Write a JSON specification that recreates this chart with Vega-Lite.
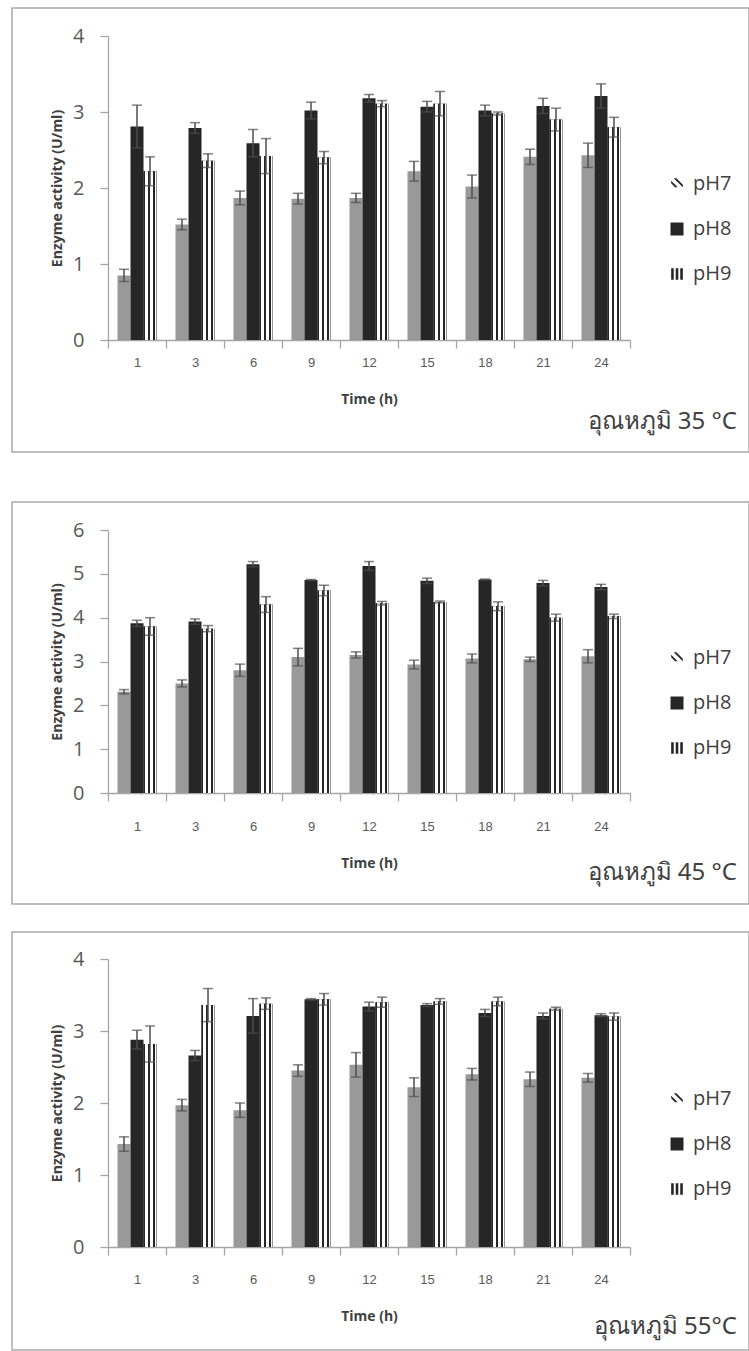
{
  "$schema": "https://vega.github.io/schema/vega-lite/v6.json",
  "padding": {"left": 11, "top": 7, "right": 0, "bottom": 0},
  "background": "white",
  "datasets": {
    "d": [
      {"t":35,"h":"1","p":"pH7","v":0.85,"lo":0.77,"hi":0.93},
      {"t":35,"h":"1","p":"pH8","v":2.81,"lo":2.53,"hi":3.09},
      {"t":35,"h":"1","p":"pH9","v":2.22,"lo":2.03,"hi":2.41},
      {"t":35,"h":"3","p":"pH7","v":1.52,"lo":1.45,"hi":1.59},
      {"t":35,"h":"3","p":"pH8","v":2.79,"lo":2.72,"hi":2.86},
      {"t":35,"h":"3","p":"pH9","v":2.36,"lo":2.27,"hi":2.45},
      {"t":35,"h":"6","p":"pH7","v":1.87,"lo":1.78,"hi":1.96},
      {"t":35,"h":"6","p":"pH8","v":2.59,"lo":2.41,"hi":2.77},
      {"t":35,"h":"6","p":"pH9","v":2.42,"lo":2.19,"hi":2.65},
      {"t":35,"h":"9","p":"pH7","v":1.86,"lo":1.79,"hi":1.93},
      {"t":35,"h":"9","p":"pH8","v":3.02,"lo":2.91,"hi":3.13},
      {"t":35,"h":"9","p":"pH9","v":2.40,"lo":2.32,"hi":2.48},
      {"t":35,"h":"12","p":"pH7","v":1.87,"lo":1.81,"hi":1.93},
      {"t":35,"h":"12","p":"pH8","v":3.18,"lo":3.13,"hi":3.23},
      {"t":35,"h":"12","p":"pH9","v":3.11,"lo":3.07,"hi":3.15},
      {"t":35,"h":"15","p":"pH7","v":2.22,"lo":2.09,"hi":2.35},
      {"t":35,"h":"15","p":"pH8","v":3.07,"lo":3.00,"hi":3.14},
      {"t":35,"h":"15","p":"pH9","v":3.11,"lo":2.95,"hi":3.27},
      {"t":35,"h":"18","p":"pH7","v":2.02,"lo":1.87,"hi":2.17},
      {"t":35,"h":"18","p":"pH8","v":3.02,"lo":2.95,"hi":3.09},
      {"t":35,"h":"18","p":"pH9","v":2.98,"lo":2.96,"hi":3.00},
      {"t":35,"h":"21","p":"pH7","v":2.41,"lo":2.31,"hi":2.51},
      {"t":35,"h":"21","p":"pH8","v":3.08,"lo":2.98,"hi":3.18},
      {"t":35,"h":"21","p":"pH9","v":2.90,"lo":2.75,"hi":3.05},
      {"t":35,"h":"24","p":"pH7","v":2.43,"lo":2.27,"hi":2.59},
      {"t":35,"h":"24","p":"pH8","v":3.21,"lo":3.05,"hi":3.37},
      {"t":35,"h":"24","p":"pH9","v":2.80,"lo":2.67,"hi":2.93},

      {"t":45,"h":"1","p":"pH7","v":2.31,"lo":2.26,"hi":2.36},
      {"t":45,"h":"1","p":"pH8","v":3.87,"lo":3.80,"hi":3.94},
      {"t":45,"h":"1","p":"pH9","v":3.80,"lo":3.60,"hi":4.00},
      {"t":45,"h":"3","p":"pH7","v":2.50,"lo":2.42,"hi":2.58},
      {"t":45,"h":"3","p":"pH8","v":3.91,"lo":3.85,"hi":3.97},
      {"t":45,"h":"3","p":"pH9","v":3.75,"lo":3.68,"hi":3.82},
      {"t":45,"h":"6","p":"pH7","v":2.80,"lo":2.66,"hi":2.94},
      {"t":45,"h":"6","p":"pH8","v":5.22,"lo":5.16,"hi":5.28},
      {"t":45,"h":"6","p":"pH9","v":4.30,"lo":4.12,"hi":4.48},
      {"t":45,"h":"9","p":"pH7","v":3.10,"lo":2.90,"hi":3.30},
      {"t":45,"h":"9","p":"pH8","v":4.86,"lo":4.85,"hi":4.87},
      {"t":45,"h":"9","p":"pH9","v":4.62,"lo":4.50,"hi":4.74},
      {"t":45,"h":"12","p":"pH7","v":3.15,"lo":3.08,"hi":3.22},
      {"t":45,"h":"12","p":"pH8","v":5.18,"lo":5.08,"hi":5.28},
      {"t":45,"h":"12","p":"pH9","v":4.33,"lo":4.29,"hi":4.37},
      {"t":45,"h":"15","p":"pH7","v":2.93,"lo":2.83,"hi":3.03},
      {"t":45,"h":"15","p":"pH8","v":4.84,"lo":4.78,"hi":4.90},
      {"t":45,"h":"15","p":"pH9","v":4.36,"lo":4.34,"hi":4.38},
      {"t":45,"h":"18","p":"pH7","v":3.07,"lo":2.97,"hi":3.17},
      {"t":45,"h":"18","p":"pH8","v":4.87,"lo":4.86,"hi":4.88},
      {"t":45,"h":"18","p":"pH9","v":4.26,"lo":4.16,"hi":4.36},
      {"t":45,"h":"21","p":"pH7","v":3.05,"lo":3.00,"hi":3.10},
      {"t":45,"h":"21","p":"pH8","v":4.79,"lo":4.73,"hi":4.85},
      {"t":45,"h":"21","p":"pH9","v":4.00,"lo":3.92,"hi":4.08},
      {"t":45,"h":"24","p":"pH7","v":3.12,"lo":2.97,"hi":3.27},
      {"t":45,"h":"24","p":"pH8","v":4.70,"lo":4.64,"hi":4.76},
      {"t":45,"h":"24","p":"pH9","v":4.03,"lo":3.98,"hi":4.08},

      {"t":55,"h":"1","p":"pH7","v":1.43,"lo":1.33,"hi":1.53},
      {"t":55,"h":"1","p":"pH8","v":2.88,"lo":2.75,"hi":3.01},
      {"t":55,"h":"1","p":"pH9","v":2.82,"lo":2.57,"hi":3.07},
      {"t":55,"h":"3","p":"pH7","v":1.97,"lo":1.89,"hi":2.05},
      {"t":55,"h":"3","p":"pH8","v":2.66,"lo":2.59,"hi":2.73},
      {"t":55,"h":"3","p":"pH9","v":3.36,"lo":3.13,"hi":3.59},
      {"t":55,"h":"6","p":"pH7","v":1.90,"lo":1.80,"hi":2.00},
      {"t":55,"h":"6","p":"pH8","v":3.21,"lo":2.97,"hi":3.45},
      {"t":55,"h":"6","p":"pH9","v":3.38,"lo":3.30,"hi":3.46},
      {"t":55,"h":"9","p":"pH7","v":2.45,"lo":2.37,"hi":2.53},
      {"t":55,"h":"9","p":"pH8","v":3.44,"lo":3.43,"hi":3.45},
      {"t":55,"h":"9","p":"pH9","v":3.44,"lo":3.36,"hi":3.52},
      {"t":55,"h":"12","p":"pH7","v":2.53,"lo":2.36,"hi":2.70},
      {"t":55,"h":"12","p":"pH8","v":3.34,"lo":3.28,"hi":3.40},
      {"t":55,"h":"12","p":"pH9","v":3.40,"lo":3.33,"hi":3.47},
      {"t":55,"h":"15","p":"pH7","v":2.22,"lo":2.09,"hi":2.35},
      {"t":55,"h":"15","p":"pH8","v":3.36,"lo":3.34,"hi":3.38},
      {"t":55,"h":"15","p":"pH9","v":3.41,"lo":3.37,"hi":3.45},
      {"t":55,"h":"18","p":"pH7","v":2.40,"lo":2.32,"hi":2.48},
      {"t":55,"h":"18","p":"pH8","v":3.25,"lo":3.20,"hi":3.30},
      {"t":55,"h":"18","p":"pH9","v":3.41,"lo":3.35,"hi":3.47},
      {"t":55,"h":"21","p":"pH7","v":2.33,"lo":2.23,"hi":2.43},
      {"t":55,"h":"21","p":"pH8","v":3.21,"lo":3.17,"hi":3.25},
      {"t":55,"h":"21","p":"pH9","v":3.31,"lo":3.29,"hi":3.33},
      {"t":55,"h":"24","p":"pH7","v":2.35,"lo":2.29,"hi":2.41},
      {"t":55,"h":"24","p":"pH8","v":3.22,"lo":3.20,"hi":3.24},
      {"t":55,"h":"24","p":"pH9","v":3.20,"lo":3.15,"hi":3.25}
    ]
  },
  "spacing": 48,
  "resolve": {"scale": {"x": "independent", "y": "independent", "xOffset": "independent", "fill": "independent", "shape": "independent"}, "legend": {"fill": "independent", "shape": "independent"}, "axis": {"x": "independent", "y": "independent"}},
  "vconcat": [
    {
      "width": 737, "height": 444,
      "data": {"name": "d"},
      "transform": [{"filter": "datum.t == 35"}],
      "title": {"text": "อุณหภูมิ 35 °C", "offset": -42},
      "encoding": {
        "x": {"field": "h", "type": "ordinal", "sort": ["1","3","6","9","12","15","18","21","24"], "title": "Time (h)",
              "scale": {"range": [96, 618], "paddingInner": 0, "paddingOuter": 0},
              "axis": {"offset": -112, "labelPadding": 8.5}},
        "xOffset": {"field": "p", "type": "nominal", "scale": {"domain": ["pH7","pH8","pH9"], "paddingInner": 0, "paddingOuter": 0.73}},
        "y": {"field": "v", "type": "quantitative", "title": "Enzyme activity (U/ml)",
              "scale": {"domain": [0, 4], "range": [332, 28], "nice": false},
              "axis": {"offset": -96, "values": [0,1,2,3,4]}}
      },
      "layer": [
        {"mark": {"type": "bar"},
         "encoding": {"fill": {"condition": {"test": "datum.p === 'pH7'", "value": "#999999"}, "value": "#262626"}}},
        {"transform": [{"filter": "datum.p === 'pH9'"}],
         "mark": {"type": "bar", "fill": {"gradient": "linear", "x1": 0, "y1": 0, "x2": 1, "y2": 0, "stops": [
                {"offset": 0, "color": "#262626"}, {"offset": 0.15, "color": "#262626"},
                {"offset": 0.15, "color": "#ffffff"}, {"offset": 0.33, "color": "#ffffff"},
                {"offset": 0.33, "color": "#262626"}, {"offset": 0.52, "color": "#262626"},
                {"offset": 0.52, "color": "#ffffff"}, {"offset": 0.7, "color": "#ffffff"},
                {"offset": 0.7, "color": "#262626"}, {"offset": 0.87, "color": "#262626"},
                {"offset": 0.87, "color": "#ffffff"}, {"offset": 0.93, "color": "#ffffff"},
                {"offset": 0.93, "color": "#9a9a9a"}, {"offset": 1, "color": "#9a9a9a"}]}}},
        {"mark": {"type": "point", "filled": true, "opacity": 0},
         "encoding": {
           "fill": {"field": "p", "type": "nominal", "scale": {"domain": ["pH7","pH8","pH9"], "range": ["#262626", "#262626", "#262626"]},
                    "legend": {"title": null, "legendX": 655, "legendY": 166}},
           "shape": {"field": "p", "type": "nominal", "scale": {"domain": ["pH7","pH8","pH9"], "range": [
                      "M-0.5,-0.9L-0.1,-0.9L0.9,0.1L0.9,0.5Z M-0.9,-0.5L0.1,0.5L-0.3,0.5L-0.9,-0.1Z",
                      "square",
                      "M-0.9,-0.9H-0.5V0.9H-0.9Z M-0.2,-0.9H0.2V0.9H-0.2Z M0.5,-0.9H0.9V0.9H0.5Z"]},
                    "legend": {"title": null, "legendX": 655, "legendY": 166}}}},
        {"mark": {"type": "rule", "color": "#4d4d4d", "strokeWidth": 1.5},
         "encoding": {"y": {"field": "lo", "type": "quantitative", "title": "Enzyme activity (U/ml)"}, "y2": {"field": "hi"}}},
        {"mark": {"type": "tick", "color": "#4d4d4d", "size": 10, "thickness": 1.5},
         "encoding": {"y": {"field": "lo", "type": "quantitative", "title": "Enzyme activity (U/ml)"}}},
        {"mark": {"type": "tick", "color": "#4d4d4d", "size": 10, "thickness": 1.5},
         "encoding": {"y": {"field": "hi", "type": "quantitative", "title": "Enzyme activity (U/ml)"}}}
      ]
    },
    {
      "spacing": 26,
      "resolve": {"scale": {"x": "independent", "y": "independent", "xOffset": "independent", "fill": "independent", "shape": "independent"}, "legend": {"fill": "independent", "shape": "independent"}, "axis": {"x": "independent", "y": "independent"}},
      "vconcat": [
        {
          "width": 737, "height": 402,
          "data": {"name": "d"},
          "transform": [{"filter": "datum.t == 45"}],
          "title": {"text": "อุณหภูมิ 45 °C", "offset": -43},
          "encoding": {
            "x": {"field": "h", "type": "ordinal", "sort": ["1","3","6","9","12","15","18","21","24"], "title": "Time (h)",
                  "scale": {"range": [96, 618], "paddingInner": 0, "paddingOuter": 0},
                  "axis": {"offset": -111, "labelPadding": 19.5}},
            "xOffset": {"field": "p", "type": "nominal", "scale": {"domain": ["pH7","pH8","pH9"], "paddingInner": 0, "paddingOuter": 0.73}},
            "y": {"field": "v", "type": "quantitative", "title": "Enzyme activity (U/ml)",
                  "scale": {"domain": [0, 6], "range": [291, 28], "nice": false},
                  "axis": {"offset": -96, "values": [0,1,2,3,4,5,6]}}
          },
          "layer": [
            {"mark": {"type": "bar"},
             "encoding": {"fill": {"condition": {"test": "datum.p === 'pH7'", "value": "#999999"}, "value": "#262626"}}},
            {"transform": [{"filter": "datum.p === 'pH9'"}],
             "mark": {"type": "bar", "fill": {"gradient": "linear", "x1": 0, "y1": 0, "x2": 1, "y2": 0, "stops": [
                    {"offset": 0, "color": "#262626"}, {"offset": 0.15, "color": "#262626"},
                    {"offset": 0.15, "color": "#ffffff"}, {"offset": 0.33, "color": "#ffffff"},
                    {"offset": 0.33, "color": "#262626"}, {"offset": 0.52, "color": "#262626"},
                    {"offset": 0.52, "color": "#ffffff"}, {"offset": 0.7, "color": "#ffffff"},
                    {"offset": 0.7, "color": "#262626"}, {"offset": 0.87, "color": "#262626"},
                    {"offset": 0.87, "color": "#ffffff"}, {"offset": 0.93, "color": "#ffffff"},
                    {"offset": 0.93, "color": "#9a9a9a"}, {"offset": 1, "color": "#9a9a9a"}]}}},
            {"mark": {"type": "point", "filled": true, "opacity": 0},
             "encoding": {
               "fill": {"field": "p", "type": "nominal", "scale": {"domain": ["pH7","pH8","pH9"], "range": ["#262626", "#262626", "#262626"]},
                        "legend": {"title": null, "legendX": 655, "legendY": 146}},
               "shape": {"field": "p", "type": "nominal", "scale": {"domain": ["pH7","pH8","pH9"], "range": [
                          "M-0.5,-0.9L-0.1,-0.9L0.9,0.1L0.9,0.5Z M-0.9,-0.5L0.1,0.5L-0.3,0.5L-0.9,-0.1Z",
                          "square",
                          "M-0.9,-0.9H-0.5V0.9H-0.9Z M-0.2,-0.9H0.2V0.9H-0.2Z M0.5,-0.9H0.9V0.9H0.5Z"]},
                        "legend": {"title": null, "legendX": 655, "legendY": 146}}}},
            {"mark": {"type": "rule", "color": "#4d4d4d", "strokeWidth": 1.5},
             "encoding": {"y": {"field": "lo", "type": "quantitative", "title": "Enzyme activity (U/ml)"}, "y2": {"field": "hi"}}},
            {"mark": {"type": "tick", "color": "#4d4d4d", "size": 10, "thickness": 1.5},
             "encoding": {"y": {"field": "lo", "type": "quantitative", "title": "Enzyme activity (U/ml)"}}},
            {"mark": {"type": "tick", "color": "#4d4d4d", "size": 10, "thickness": 1.5},
             "encoding": {"y": {"field": "hi", "type": "quantitative", "title": "Enzyme activity (U/ml)"}}}
          ]
        },
        {
          "width": 737, "height": 418,
          "data": {"name": "d"},
          "transform": [{"filter": "datum.t == 55"}],
          "title": {"text": "อุณหภูมิ 55°C", "offset": -35},
          "encoding": {
            "x": {"field": "h", "type": "ordinal", "sort": ["1","3","6","9","12","15","18","21","24"], "title": "Time (h)",
                  "scale": {"range": [96, 618], "paddingInner": 0, "paddingOuter": 0},
                  "axis": {"offset": -103, "labelPadding": 18.5}},
            "xOffset": {"field": "p", "type": "nominal", "scale": {"domain": ["pH7","pH8","pH9"], "paddingInner": 0, "paddingOuter": 0.73}},
            "y": {"field": "v", "type": "quantitative", "title": "Enzyme activity (U/ml)",
                  "scale": {"domain": [0, 4], "range": [315, 27], "nice": false},
                  "axis": {"offset": -96, "values": [0,1,2,3,4]}}
          },
          "layer": [
            {"mark": {"type": "bar"},
             "encoding": {"fill": {"condition": {"test": "datum.p === 'pH7'", "value": "#999999"}, "value": "#262626"}}},
            {"transform": [{"filter": "datum.p === 'pH9'"}],
             "mark": {"type": "bar", "fill": {"gradient": "linear", "x1": 0, "y1": 0, "x2": 1, "y2": 0, "stops": [
                    {"offset": 0, "color": "#262626"}, {"offset": 0.15, "color": "#262626"},
                    {"offset": 0.15, "color": "#ffffff"}, {"offset": 0.33, "color": "#ffffff"},
                    {"offset": 0.33, "color": "#262626"}, {"offset": 0.52, "color": "#262626"},
                    {"offset": 0.52, "color": "#ffffff"}, {"offset": 0.7, "color": "#ffffff"},
                    {"offset": 0.7, "color": "#262626"}, {"offset": 0.87, "color": "#262626"},
                    {"offset": 0.87, "color": "#ffffff"}, {"offset": 0.93, "color": "#ffffff"},
                    {"offset": 0.93, "color": "#9a9a9a"}, {"offset": 1, "color": "#9a9a9a"}]}}},
            {"mark": {"type": "point", "filled": true, "opacity": 0},
             "encoding": {
               "fill": {"field": "p", "type": "nominal", "scale": {"domain": ["pH7","pH8","pH9"], "range": ["#262626", "#262626", "#262626"]},
                        "legend": {"title": null, "legendX": 655, "legendY": 157}},
               "shape": {"field": "p", "type": "nominal", "scale": {"domain": ["pH7","pH8","pH9"], "range": [
                          "M-0.5,-0.9L-0.1,-0.9L0.9,0.1L0.9,0.5Z M-0.9,-0.5L0.1,0.5L-0.3,0.5L-0.9,-0.1Z",
                          "square",
                          "M-0.9,-0.9H-0.5V0.9H-0.9Z M-0.2,-0.9H0.2V0.9H-0.2Z M0.5,-0.9H0.9V0.9H0.5Z"]},
                        "legend": {"title": null, "legendX": 655, "legendY": 157}}}},
            {"mark": {"type": "rule", "color": "#4d4d4d", "strokeWidth": 1.5},
             "encoding": {"y": {"field": "lo", "type": "quantitative", "title": "Enzyme activity (U/ml)"}, "y2": {"field": "hi"}}},
            {"mark": {"type": "tick", "color": "#4d4d4d", "size": 10, "thickness": 1.5},
             "encoding": {"y": {"field": "lo", "type": "quantitative", "title": "Enzyme activity (U/ml)"}}},
            {"mark": {"type": "tick", "color": "#4d4d4d", "size": 10, "thickness": 1.5},
             "encoding": {"y": {"field": "hi", "type": "quantitative", "title": "Enzyme activity (U/ml)"}}}
          ]
        }
      ]
    }
  ],
  "config": {
    "view": {"stroke": "#aaaaaa", "strokeWidth": 1.5},
    "axis": {"grid": false, "domainColor": "#a6a6a6", "tickColor": "#a6a6a6", "tickSize": 8, "domainWidth": 1.3, "tickWidth": 1.3},
    "axisX": {"labelFont": "Liberation Sans", "labelFontSize": 13, "labelColor": "#595959", "labelAngle": 0, "tickBand": "extent",
              "titleFont": "Open Sans", "titleFontSize": 14, "titleFontWeight": "bold", "titleColor": "#404040", "titlePadding": 23},
    "axisY": {"labelFont": "Open Sans", "labelFontSize": 20, "labelColor": "#595959", "labelPadding": 16,
              "titleFont": "Open Sans", "titleFontSize": 14, "titleFontWeight": "bold", "titleColor": "#404040", "titlePadding": 8},
    "legend": {"orient": "none", "symbolSize": 169, "symbolStrokeWidth": 0, "labelFont": "Open Sans",
               "labelFontSize": 20, "labelColor": "#404040", "labelOffset": 6, "rowPadding": 25, "padding": 0, "symbolOpacity": 1},
    "title": {"font": "Noto Sans", "fontSize": 24, "fontWeight": "normal", "color": "#404040", "anchor": "end", "orient": "bottom", "frame": "group", "dx": -12}
  }
}
